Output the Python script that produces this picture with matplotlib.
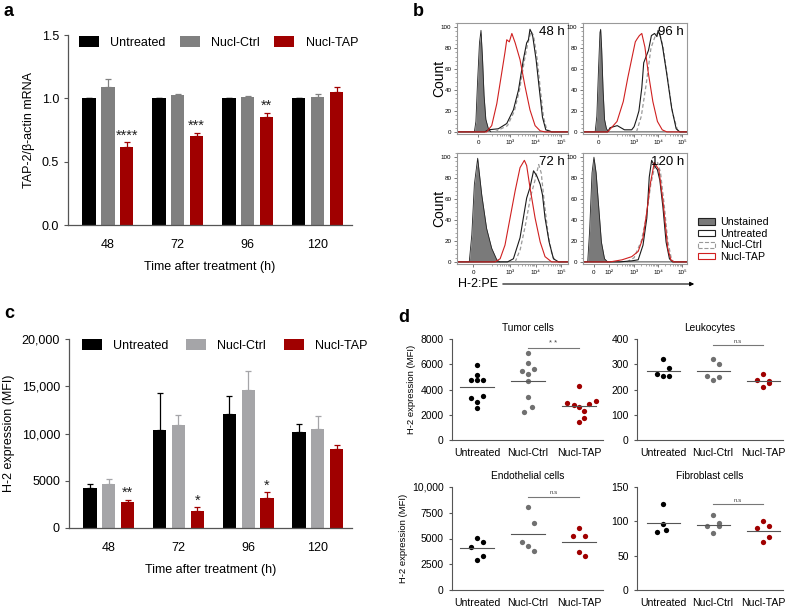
import matplotlib
matplotlib.use('Agg')
import matplotlib.pyplot as plt
import matplotlib.patches as mpatches
import numpy as np
from matplotlib.ticker import FixedLocator, MultipleLocator

plt.rcParams['font.family'] = ['Liberation Sans', 'DejaVu Sans']

# ---------------- data ----------------
groups = ['48', '72', '96', '120']
series = ['Untreated', 'Nucl-Ctrl', 'Nucl-TAP']

# panel a: TAP-2 mRNA
mrna_untreated = [1.0, 1.0, 1.0, 1.0]
mrna_ctrl = [1.087, 1.024, 1.008, 1.013]
mrna_tap = [0.613, 0.703, 0.855, 1.05]
mrna_ctrl_err = [0.066, 0.013, 0.008, 0.019]
mrna_tap_err = [0.04, 0.026, 0.032, 0.037]
mrna_untreated_err = [0, 0, 0, 0]
mrna_stars = ['****', '***', '**', '']

# panel c: H-2 MFI
mfi_untreated = [4200, 10330, 12030, 10160]
mfi_ctrl = [4690, 10900, 14570, 10510]
mfi_tap = [2710, 1760, 3210, 8390]
mfi_untreated_err = [420, 3920, 1970, 810]
mfi_ctrl_err = [530, 1020, 2010, 1300]
mfi_tap_err = [250, 420, 560, 420]
mfi_stars = ['**', '*', '*', '']

# panel b: flow histograms, x in display decades (10^3 -> 3), y = count %
h48_unst = [(0.9, 0), (1.60, 0), (1.66, 10), (1.72, 45), (1.80, 85), (1.86, 97), (1.92, 70),
            (1.98, 35), (2.05, 12), (2.15, 3), (2.25, 0), (5.3, 0)]
h48_untr = [(0.9, 0), (2.0, 0), (2.15, 2), (2.54, 3), (2.87, 8), (3.13, 21), (3.33, 40), (3.52, 69),
            (3.65, 85), (3.72, 88), (3.78, 98), (3.84, 95), (3.89, 91), (4.02, 69), (4.15, 40),
            (4.27, 14), (4.40, 2), (4.63, 0), (5.3, 0)]
h48_ctrl = [(2.4, 0), (2.9, 6), (3.17, 20), (3.37, 40), (3.56, 68), (3.69, 84), (3.82, 96),
            (3.92, 92), (4.06, 70), (4.19, 40), (4.31, 14), (4.44, 2), (4.65, 0)]
h48_tap = [(0.9, 0), (2.08, 0), (2.28, 6), (2.48, 27), (2.67, 56), (2.80, 76), (2.87, 88),
           (2.97, 86), (3.07, 94), (3.2, 85), (3.39, 69), (3.59, 43), (3.78, 21), (3.98, 6),
           (4.18, 1), (4.37, 0), (5.3, 0)]

h96_unst = [(0.85, 0), (1.38, 0), (1.45, 15), (1.52, 60), (1.58, 95), (1.61, 98), (1.65, 80),
            (1.71, 40), (1.77, 12), (1.85, 3), (1.95, 0), (5.2, 0)]
h96_untr = [(0.85, 0), (1.9, 0), (2.0, 4), (2.3, 6), (2.6, 2), (2.9, 2), (3.0, 5), (3.1, 12),
            (3.2, 20), (3.32, 42), (3.4, 66), (3.5, 72), (3.6, 78), (3.72, 92), (3.85, 94),
            (3.95, 91), (4.0, 97), (4.08, 92), (4.18, 82), (4.36, 55), (4.56, 23), (4.75, 3),
            (4.9, 0), (5.2, 0)]
h96_ctrl = [(3.1, 0), (3.3, 15), (3.5, 45), (3.7, 80), (3.9, 93), (4.05, 95), (4.2, 82),
            (4.4, 50), (4.6, 18), (4.8, 2), (4.95, 0)]
h96_tap = [(0.85, 0), (1.9, 0), (2.29, 10), (2.55, 29), (2.74, 52), (2.94, 74), (3.05, 86),
           (3.13, 89), (3.22, 92), (3.32, 94), (3.45, 81), (3.58, 58), (3.78, 29), (3.97, 10),
           (4.17, 2), (4.36, 0), (5.2, 0)]

h72_unst = [(0.9, 0), (1.40, 0), (1.50, 26), (1.60, 74), (1.73, 99), (1.89, 64), (2.08, 32),
            (2.28, 13), (2.48, 2), (2.6, 0), (5.3, 0)]
h72_untr = [(0.9, 0), (2.9, 0), (3.13, 3), (3.39, 23), (3.52, 42), (3.65, 61), (3.78, 71),
            (3.92, 87), (4.05, 82), (4.18, 74), (4.27, 64), (4.37, 42), (4.53, 19), (4.7, 3),
            (4.9, 0), (5.3, 0)]
h72_ctrl = [(3.2, 0), (3.4, 12), (3.6, 35), (3.8, 62), (4.0, 80), (4.12, 93), (4.22, 85),
            (4.35, 55), (4.5, 25), (4.65, 6), (4.8, 0)]
h72_tap = [(0.9, 0), (2.41, 0), (2.61, 3), (2.8, 16), (3.0, 42), (3.2, 68), (3.39, 90),
           (3.56, 97), (3.65, 92), (3.78, 71), (3.98, 42), (4.18, 19), (4.37, 5), (4.63, 0),
           (5.3, 0)]

h120_unst = [(0.85, 0), (1.07, 0), (1.15, 30), (1.25, 85), (1.33, 100), (1.42, 85), (1.51, 58),
             (1.64, 19), (1.77, 3), (1.9, 0), (5.2, 0)]
h120_untr = [(0.85, 0), (2.4, 0), (2.9, 1), (3.17, 2), (3.37, 16), (3.53, 42), (3.63, 81),
             (3.73, 97), (3.84, 92), (3.97, 88), (4.07, 78), (4.2, 52), (4.33, 19), (4.47, 3),
             (4.6, 0), (5.2, 0)]
h120_ctrl = [(2.7, 0), (3.0, 4), (3.3, 20), (3.5, 42), (3.7, 75), (3.85, 90), (3.98, 95),
             (4.1, 85), (4.25, 55), (4.4, 20), (4.55, 3), (4.65, 0)]
h120_tap = [(0.85, 0), (2.0, 0), (2.5, 2), (2.9, 5), (3.17, 10), (3.37, 23), (3.53, 48),
            (3.67, 74), (3.8, 90), (3.84, 95), (3.92, 92), (4.03, 88), (4.2, 58), (4.4, 13),
            (4.53, 2), (4.65, 0), (5.2, 0)]

# panel d: per-mouse H-2 MFI
tumor_untreated = [5960, 5165, 4768, 4768, 4768, 3364, 3523, 3046, 2517]
tumor_ctrl = [6887, 6093, 5430, 5245, 5642, 4689, 3444, 2649, 2252]
tumor_tap = [4291, 2967, 2781, 2596, 2861, 3099, 2305, 1722, 1404]
leuko_untreated = [320, 285, 262, 254, 254]
leuko_ctrl = [320, 302, 254, 249, 236]
leuko_tap = [262, 232, 236, 225, 209]
endo_untreated = [5032, 4708, 4221, 3344, 2922]
endo_ctrl = [8052, 6494, 4708, 3831, 4318]
endo_tap = [6006, 5195, 5195, 3344, 3734]
fibro_untreated = [125.6, 96.4, 84.3, 86.7]
fibro_ctrl = [109, 97.4, 93.5, 93.5, 82.8]
fibro_tap = [100.8, 93.5, 89.6, 76.5, 70.6]

# ---------------- styling ----------------
W, H = 789, 608
BLACK = '#000000'
RED = '#a00000'
GRAY_A = '#808080'
GRAY_C = '#a5a5a8'
GRAY_D = '#707070'
SPINE = '#555555'


def px_axes(fig, l, t, r, b):
    return fig.add_axes([l / W, (H - b) / H, (r - l) / W, (b - t) / H])


fig = plt.figure(figsize=(W / 100, H / 100), dpi=100)


def bar_panel(ax, vals, errs, stars, gray, ylim, yticks, yticklabels, ylabel, star_pad,
              leg_x, leg_y, colsp):
    x = np.arange(len(groups))
    offs = [-0.27, 0, 0.27]
    cols = [BLACK, gray, RED]
    handles = []
    for v, e, o, c, name in zip(vals, errs, offs, cols, series):
        b = ax.bar(x + o, v, width=0.19, color=c, label=name, zorder=2)
        handles.append(b)
        ax.errorbar(x + o, v, yerr=[np.zeros(len(e)), e], fmt='none', ecolor=c,
                    elinewidth=0.9, capsize=2.5, capthick=0.9, zorder=1)
    for i, s in enumerate(stars):
        if s:
            top = vals[2][i] + errs[2][i]
            ax.text(x[i] + 0.27, top + star_pad, s, ha='center', va='bottom', fontsize=10.5,
                    color='#222222')
    ax.set_xlim(-0.57, 3.49)
    ax.set_ylim(*ylim)
    ax.set_xticks(x)
    ax.set_xticklabels(groups, fontsize=9)
    ax.set_yticks(yticks)
    ax.set_yticklabels(yticklabels, fontsize=9)
    ax.tick_params(axis='x', length=0, pad=10)
    ax.tick_params(axis='y', length=3, color=SPINE)
    for sp in ['top', 'right']:
        ax.spines[sp].set_visible(False)
    for sp in ['left', 'bottom']:
        ax.spines[sp].set_color(SPINE)
        ax.spines[sp].set_linewidth(0.9)
    ax.set_xlabel('Time after treatment (h)', fontsize=9, labelpad=7)
    ax.set_ylabel(ylabel, fontsize=9, labelpad=5)
    ax.legend(handles=handles, ncol=3, loc='upper left', bbox_to_anchor=(leg_x, leg_y),
              frameon=False, fontsize=9, handlelength=1.6, handleheight=0.9,
              columnspacing=colsp, handletextpad=0.9, borderaxespad=0)


# ---- panel a
ax_a = px_axes(fig, 68, 35, 352, 225)
bar_panel(ax_a, [mrna_untreated, mrna_ctrl, mrna_tap],
          [mrna_untreated_err, mrna_ctrl_err, mrna_tap_err], mrna_stars, GRAY_A,
          (0, 1.5), [0, 0.5, 1.0, 1.5], ['0.0', '0.5', '1.0', '1.5'],
          'TAP-2/\u03b2-actin mRNA', 0.0, 0.021, 1.02, 1.15)

# ---- panel c
ax_c = px_axes(fig, 69, 339, 352, 528)
bar_panel(ax_c, [mfi_untreated, mfi_ctrl, mfi_tap],
          [mfi_untreated_err, mfi_ctrl_err, mfi_tap_err], mfi_stars, GRAY_C,
          (0, 20000), [0, 5000, 10000, 15000, 20000],
          ['0', '5000', '10,000', '15,000', '20,000'], 'H-2 expression (MFI)', 0,
          0.028, 1.024, 1.4)

# ---- panel b
hist_panels = [
    ((457, 23, 568, 134), '48 h', h48_unst, h48_untr, h48_ctrl, h48_tap, (0.92, 5.27),
     [(1.75, '0'), (3, '10\u00b3'), (4, '10\u2074'), (5, '10\u2075')], True),
    ((583, 23, 687, 134), '96 h', h96_unst, h96_untr, h96_ctrl, h96_tap, (0.875, 5.2),
     [(1.51, '0'), (3, '10\u00b3'), (4, '10\u2074'), (5, '10\u2075')], False),
    ((457, 153, 568, 264), '72 h', h72_unst, h72_untr, h72_ctrl, h72_tap, (0.92, 5.27),
     [(1.56, '0'), (3, '10\u00b3'), (4, '10\u2074'), (5, '10\u2075')], True),
    ((583, 153, 687, 264), '120 h', h120_unst, h120_untr, h120_ctrl, h120_tap, (0.875, 5.2),
     [(1.33, '0'), (1.97, '10\u00b2'), (3, '10\u00b3'), (4, '10\u2074'), (5, '10\u2075')], False),
]

for box, label, unst, untr, ctrl, tap, xlim, xt, show_count in hist_panels:
    ax = px_axes(fig, *box)
    ux, uy = zip(*unst)
    ax.fill_between(ux, uy, color='#7a7a7a', lw=0)
    ax.plot(ux, uy, color='#222222', lw=0.6)
    cx, cy = zip(*ctrl)
    ax.plot(cx, cy, color='#9a9a9a', lw=0.9, ls=(0, (3, 2)))
    tx, ty = zip(*untr)
    ax.plot(tx, ty, color='#1a1a1a', lw=0.8)
    rx, ry = zip(*tap)
    ax.plot(rx, ry, color='#d02020', lw=0.8)
    ax.set_xlim(*xlim)
    ax.set_ylim(-2, 104)
    ax.set_yticks([0, 20, 40, 60, 80, 100])
    ax.set_yticklabels(['0', '20', '40', '60', '80', '100'], fontsize=4.5)
    ax.yaxis.set_minor_locator(MultipleLocator(4))
    ax.set_xticks([p for p, _ in xt])
    ax.set_xticklabels([t for _, t in xt], fontsize=4.5)
    minor = [d + np.log10(k) for d in (2, 3, 4) for k in range(2, 10)]
    minor = [m for m in minor if xlim[0] < m < xlim[1] and m > 2.2]
    ax.xaxis.set_minor_locator(FixedLocator(minor))
    ax.tick_params(which='major', length=2.5, width=0.5, pad=1.5, color='#444444')
    ax.tick_params(which='minor', length=1.5, width=0.4, color='#666666')
    for sp in ax.spines.values():
        sp.set_color('#999999')
        sp.set_linewidth(0.8)
    ax.text(0.97, 0.97, label, transform=ax.transAxes, ha='right', va='top', fontsize=9.5)
    if show_count:
        ax.set_ylabel('Count', fontsize=10)
        ax.yaxis.set_label_coords(-0.1, 0.5)

# b legend
b_handles = [
    mpatches.Patch(facecolor='#7a7a7a', edgecolor='#222222', lw=0.8, label='Unstained'),
    mpatches.Patch(facecolor='white', edgecolor='#222222', lw=0.8, label='Untreated'),
    mpatches.Patch(facecolor='white', edgecolor='#999999', lw=0.8, ls='--', label='Nucl-Ctrl'),
    mpatches.Patch(facecolor='white', edgecolor='#d02020', lw=0.8, label='Nucl-TAP'),
]
fig.legend(handles=b_handles, loc='upper left', bbox_to_anchor=(694 / W, 1 - 213 / H),
           frameon=False, fontsize=7.7, handlelength=1.6, handleheight=0.5,
           handletextpad=0.4, labelspacing=0.15, borderaxespad=0)

fig.text(458 / W, 1 - 284 / H, 'H-2:PE', fontsize=9, va='center', ha='left')
fig.add_artist(mpatches.FancyArrowPatch((500 / W, 1 - 284 / H), (697 / W, 1 - 284 / H),
                                        transform=fig.transFigure, arrowstyle='-|>',
                                        mutation_scale=6, lw=0.8, color='black'))

# ---- panel d
d_panels = [
    ((452, 339, 603, 440), 'Tumor cells', tumor_untreated, tumor_ctrl, tumor_tap,
     (0, 8000), [0, 2000, 4000, 6000, 8000], ['0', '2000', '4000', '6000', '8000'],
     7285, '* *', True, (-0.49, 2.47)),
    ((637, 339, 783, 440), 'Leukocytes', leuko_untreated, leuko_ctrl, leuko_tap,
     (0, 400), [0, 100, 200, 300, 400], ['0', '100', '200', '300', '400'],
     375, 'n.s', False, (-0.52, 2.4)),
    ((452, 487, 603, 590), 'Endothelial cells', endo_untreated, endo_ctrl, endo_tap,
     (0, 10000), [0, 2500, 5000, 7500, 10000], ['0', '2500', '5000', '7500', '10,000'],
     9026, 'n.s', True, (-0.49, 2.47)),
    ((637, 487, 783, 590), 'Fibroblast cells', fibro_untreated, fibro_ctrl, fibro_tap,
     (0, 150), [0, 50, 100, 150], ['0', '50', '100', '150'],
     124.7, 'n.s', False, (-0.52, 2.4)),
]

jitter = {4: [0.0, 0.0, -0.12, 0.06], 5: [0.0, 0.12, -0.12, 0.12, 0.0]}
jitter9 = [[0.0, 0.0, -0.12, 0.0, 0.12, -0.12, 0.12, 0.0, 0.0],
           [0.0, 0.0, -0.12, 0.0, 0.12, 0.0, 0.0, 0.07, -0.07],
           [0.0, -0.24, -0.1, 0.0, 0.2, 0.33, 0.1, 0.1, 0.0]]

for box, title, g0, g1, g2, ylim, yt, ytl, sig_y, sig_txt, show_yl, xlim in d_panels:
    ax = px_axes(fig, *box)
    for i, (vals, c) in enumerate(zip([g0, g1, g2], [BLACK, GRAY_D, RED])):
        j = jitter9[i] if len(vals) == 9 else jitter.get(len(vals), [0] * len(vals))
        ax.plot(np.full(len(vals), i) + np.array(j), vals, 'o', color=c, ms=3.8, mew=0)
        m = np.mean(vals)
        ax.plot([i - 0.33, i + 0.33], [m, m], color='#555555', lw=0.8)
    ax.plot([1, 2], [sig_y, sig_y], color='#777777', lw=0.8)
    ax.text(1.5, sig_y + (ylim[1] - ylim[0]) * 0.015, sig_txt, ha='center', va='bottom',
            fontsize=4.5 if sig_txt == 'n.s' else 5.5, color='#444444')
    ax.set_xlim(*xlim)
    ax.set_ylim(*ylim)
    ax.set_yticks(yt)
    ax.set_yticklabels(ytl, fontsize=7.5)
    ax.set_xticks([0, 1, 2])
    ax.set_xticklabels(series, fontsize=7.6)
    ax.tick_params(axis='x', length=0, pad=6)
    ax.tick_params(axis='y', length=2.5, color=SPINE)
    for sp in ['top', 'right']:
        ax.spines[sp].set_visible(False)
    for sp in ['left', 'bottom']:
        ax.spines[sp].set_color(SPINE)
        ax.spines[sp].set_linewidth(0.8)
    ax.set_title(title, fontsize=7.3, pad=6)
    if show_yl:
        ax.set_ylabel('H-2 expression (MFI)', fontsize=6.8, labelpad=3)

# panel letters
for letter, x, y in [('a', 4, 12), ('b', 413, 12), ('c', 4, 313), ('d', 398, 318)]:
    fig.text(x / W, 1 - y / H, letter, fontsize=13, fontweight='bold', va='center', ha='left')

fig.savefig('out.png', dpi=100)
